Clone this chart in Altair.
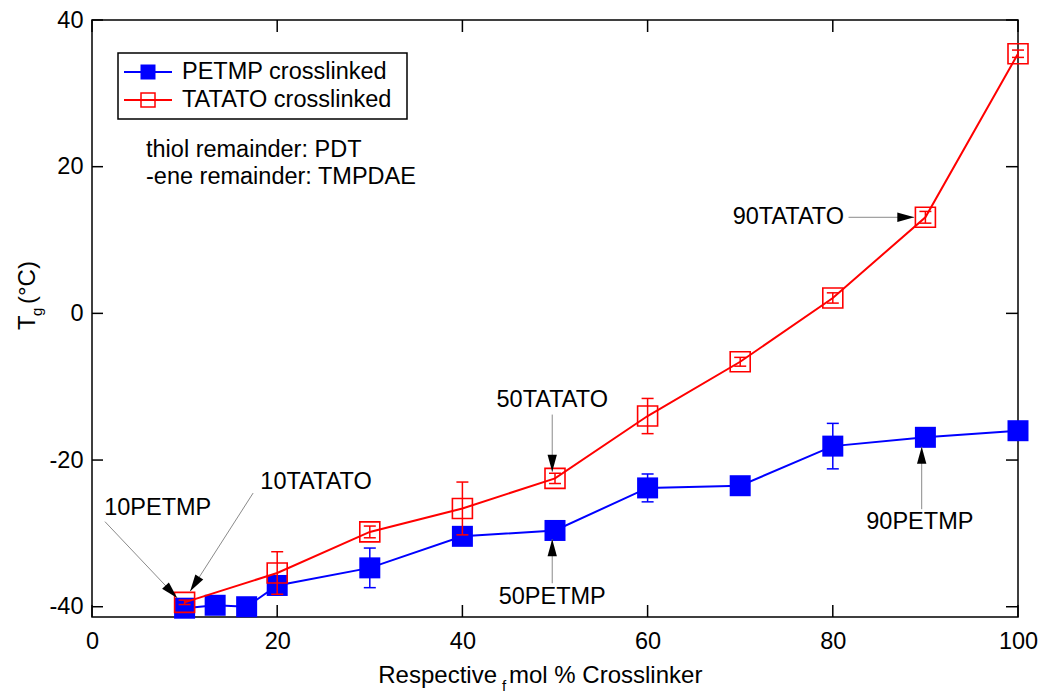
import altair as alt
import pandas as pd

# ---------------- data ----------------
petmp_x = [10, 13.3, 16.7, 20, 30, 40, 50, 60, 70, 80, 90, 100]
petmp_y = [-40.2, -39.8, -40.0, -37.1, -34.7, -30.4, -29.6, -23.8, -23.5, -18.1, -16.9, -16.0]
petmp_err = [0.3, 0.3, 0.3, 0.6, 2.7, 0.8, 0.6, 1.9, 0.5, 3.1, 0.5, 0.3]

tatato_x = [10, 20, 30, 40, 50, 60, 70, 80, 90, 100]
tatato_y = [-39.4, -35.4, -29.8, -26.6, -22.5, -14.0, -6.6, 2.1, 13.1, 35.4]
tatato_err = [0.3, 2.9, 0.8, 3.6, 0.7, 2.4, 0.6, 0.7, 0.8, 0.5]

x_ticks = [0, 20, 40, 60, 80, 100]
y_ticks = [-40, -20, 0, 20, 40]

ann_labels = ["10PETMP", "10TATATO", "50TATATO", "50PETMP", "90TATATO", "90PETMP"]
ann_text_x = [7.1, 24.2, 49.7, 49.7, 75.2, 89.4]
ann_text_y = [-26.5, -23.0, -11.8, -38.7, 13.1, -28.5]
arrow_from_x = [1.4, 17.4, 49.7, 49.7, 81.7, 89.6]
arrow_from_y = [-28.4, -24.5, -13.8, -36.8, 13.1, -26.7]
arrow_tip_x = [9.2, 10.6, 49.7, 49.7, 88.8, 89.6]
arrow_tip_y = [-38.8, -37.9, -21.6, -30.8, 13.1, -18.2]
arrow_angle = [136.5, 212.5, 180, 0, 90, 0]

FONT = "Liberation Sans"
FS = 23.5
BLUE = "#0000FF"
RED = "#FF0000"

petmp = pd.DataFrame({"x": petmp_x, "y": petmp_y,
                      "lo": [v - e for v, e in zip(petmp_y, petmp_err)],
                      "hi": [v + e for v, e in zip(petmp_y, petmp_err)]})
tatato = pd.DataFrame({"x": tatato_x, "y": tatato_y,
                       "lo": [v - e for v, e in zip(tatato_y, tatato_err)],
                       "hi": [v + e for v, e in zip(tatato_y, tatato_err)]})
ann = pd.DataFrame({"label": ann_labels, "tx": ann_text_x, "ty": ann_text_y,
                    "fx": arrow_from_x, "fy": arrow_from_y,
                    "px": arrow_tip_x, "py": arrow_tip_y, "ang": arrow_angle})
xt = pd.DataFrame({"v": x_ticks})
yt = pd.DataFrame({"v": y_ticks})
one = pd.DataFrame({"a": [0]})

xs = alt.Scale(domain=[0, 100], nice=False, zero=False)
ys = alt.Scale(domain=[-41.4, 40], nice=False, zero=False)
xaxis = alt.Axis(values=x_ticks, title=None, ticks=False, domain=False, grid=False,
                 labelFont=FONT, labelFontSize=FS, labelColor="black", labelPadding=12,
                 labelFlush=False, labelExpr="'' + datum.value")
yaxis = alt.Axis(values=y_ticks, title=None, ticks=False, domain=False, grid=False,
                 labelFont=FONT, labelFontSize=FS, labelColor="black", labelPadding=9,
                 labelExpr="'' + datum.value")


def X(f):
    return alt.X(f, type="quantitative", scale=xs, axis=xaxis)


def Y(f):
    return alt.Y(f, type="quantitative", scale=ys, axis=yaxis)


layers = []

# inward ticks on all four sides
layers.append(alt.Chart(xt).mark_rule(color="black", strokeWidth=1.5).encode(
    x=X("v"), y=alt.value(597), y2=alt.value(585)))
layers.append(alt.Chart(xt).mark_rule(color="black", strokeWidth=1.5).encode(
    x=X("v"), y=alt.value(0), y2=alt.value(12)))
layers.append(alt.Chart(yt).mark_rule(color="black", strokeWidth=1.5).encode(
    y=Y("v"), x=alt.value(0), x2=alt.value(11)))
layers.append(alt.Chart(yt).mark_rule(color="black", strokeWidth=1.5).encode(
    y=Y("v"), x=alt.value(926), x2=alt.value(914)))

# PETMP series
layers.append(alt.Chart(petmp).mark_line(color=BLUE, strokeWidth=2).encode(x=X("x"), y=Y("y")))
layers.append(alt.Chart(petmp).mark_rule(color=BLUE, strokeWidth=1.5).encode(
    x=X("x"), y=Y("lo"), y2="hi"))
layers.append(alt.Chart(petmp).mark_rule(color=BLUE, strokeWidth=1.5, xOffset=-6, x2Offset=6).encode(
    x=X("x"), x2="x", y=Y("lo")))
layers.append(alt.Chart(petmp).mark_rule(color=BLUE, strokeWidth=1.5, xOffset=-6, x2Offset=6).encode(
    x=X("x"), x2="x", y=Y("hi")))
layers.append(alt.Chart(petmp).mark_point(shape="square", filled=True, size=441, color=BLUE,
                                          opacity=1).encode(x=X("x"), y=Y("y")))

# TATATO series
layers.append(alt.Chart(tatato).mark_line(color=RED, strokeWidth=2).encode(x=X("x"), y=Y("y")))
layers.append(alt.Chart(tatato).mark_rule(color=RED, strokeWidth=1.5).encode(
    x=X("x"), y=Y("lo"), y2="hi"))
layers.append(alt.Chart(tatato).mark_rule(color=RED, strokeWidth=1.5, xOffset=-6, x2Offset=6).encode(
    x=X("x"), x2="x", y=Y("lo")))
layers.append(alt.Chart(tatato).mark_rule(color=RED, strokeWidth=1.5, xOffset=-6, x2Offset=6).encode(
    x=X("x"), x2="x", y=Y("hi")))
layers.append(alt.Chart(tatato).mark_point(shape="square", filled=False, size=400, color=RED,
                                           strokeWidth=1.6, opacity=1).encode(x=X("x"), y=Y("y")))

# annotations
layers.append(alt.Chart(ann).mark_rule(color="#8a8a8a", strokeWidth=1).encode(
    x=X("fx"), y=Y("fy"), x2="px", y2="py"))
layers.append(alt.Chart(ann).mark_point(shape="M0,0L0.55,2L-0.55,2Z", filled=True, size=289,
                                        color="black", opacity=1).encode(
    x=X("px"), y=Y("py"), angle=alt.Angle("ang:Q", scale=None)))
layers.append(alt.Chart(ann).mark_text(font=FONT, fontSize=FS, color="black", align="center",
                                       baseline="middle").encode(
    x=X("tx"), y=Y("ty"), text="label:N"))

# legend
layers.append(alt.Chart(one).mark_rect(fill="white", stroke="black", strokeWidth=1.5).encode(
    x=alt.value(26), x2=alt.value(315), y=alt.value(33), y2=alt.value(99)))
layers.append(alt.Chart(one).mark_rule(color=BLUE, strokeWidth=2).encode(
    x=alt.value(32), x2=alt.value(80), y=alt.value(52)))
layers.append(alt.Chart(one).mark_point(shape="square", filled=True, size=225, color=BLUE,
                                        opacity=1).encode(x=alt.value(56), y=alt.value(52)))
layers.append(alt.Chart(one).mark_rule(color=RED, strokeWidth=2).encode(
    x=alt.value(32), x2=alt.value(80), y=alt.value(80)))
layers.append(alt.Chart(one).mark_point(shape="square", filled=False, size=196, color=RED,
                                        strokeWidth=1.5, opacity=1).encode(x=alt.value(56), y=alt.value(80)))
layers.append(alt.Chart(one).mark_text(font=FONT, fontSize=FS, color="black", align="left",
                                       baseline="middle", text="PETMP crosslinked").encode(
    x=alt.value(90), y=alt.value(52)))
layers.append(alt.Chart(one).mark_text(font=FONT, fontSize=FS, color="black", align="left",
                                       baseline="middle", text="TATATO crosslinked").encode(
    x=alt.value(90), y=alt.value(80)))
layers.append(alt.Chart(one).mark_text(font=FONT, fontSize=FS, color="black", align="left",
                                       baseline="middle", text="thiol remainder: PDT").encode(
    x=alt.value(54), y=alt.value(130)))
layers.append(alt.Chart(one).mark_text(font=FONT, fontSize=FS, color="black", align="left",
                                       baseline="middle", text="-ene remainder: TMPDAE").encode(
    x=alt.value(54), y=alt.value(157)))

# axis titles (with subscripts)
layers.append(alt.Chart(one).mark_text(font=FONT, fontSize=24, color="black", align="right",
                                       baseline="alphabetic", text="Respective").encode(
    x=alt.value(405), y=alt.value(663)))
layers.append(alt.Chart(one).mark_text(font=FONT, fontSize=15, color="black", align="left",
                                       baseline="alphabetic", text="f").encode(
    x=alt.value(410), y=alt.value(671)))
layers.append(alt.Chart(one).mark_text(font=FONT, fontSize=24, color="black", align="left",
                                       baseline="alphabetic", text="mol % Crosslinker").encode(
    x=alt.value(417), y=alt.value(663)))
layers.append(alt.Chart(one).mark_text(font=FONT, fontSize=24, color="black", align="left",
                                       baseline="middle", angle=270, text="T").encode(
    x=alt.value(-64), y=alt.value(310)))
layers.append(alt.Chart(one).mark_text(font=FONT, fontSize=15, color="black", align="left",
                                       baseline="middle", angle=270, text="g").encode(
    x=alt.value(-55), y=alt.value(296)))
layers.append(alt.Chart(one).mark_text(font=FONT, fontSize=24, color="black", align="left",
                                       baseline="middle", angle=270, text="(°C)").encode(
    x=alt.value(-64), y=alt.value(284)))

chart = alt.layer(*layers).properties(
    width=926, height=597,
    autosize=alt.AutoSizeParams(type="none"),
    padding={"left": 84, "top": 12, "right": 20, "bottom": 80},
    background="white",
).configure_view(stroke="black", strokeWidth=1.5)

chart.save("out.html", embed_options={"renderer": "svg", "actions": False})
